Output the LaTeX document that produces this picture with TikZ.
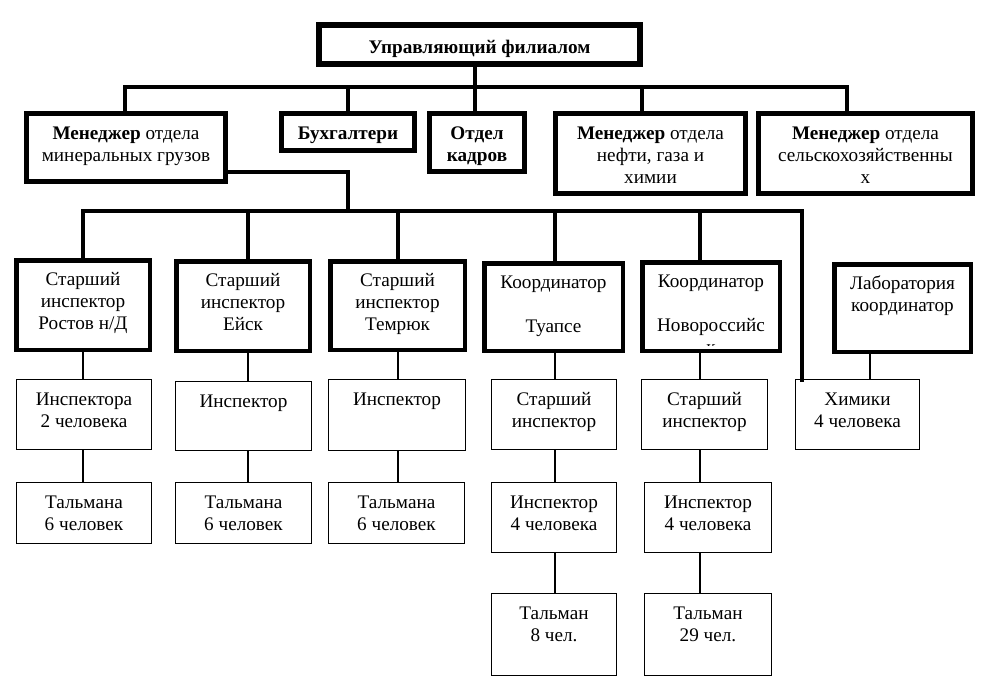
\documentclass[tikz,border=0pt]{standalone}
\usepackage{fontspec}
\setmainfont{Liberation Serif}
\def\cbpad{10pt}
\newcommand\cbx[8]{%
  \pgfmathsetmacro\cbw{#6-#4-#3}\pgfmathsetmacro\cbh{#7-#5-#3}%
  \node[#2, line width=#3pt, anchor=north west] (#1) at ({#4+#3/2},{#5+#3/2})
    {\parbox[c][\cbh pt][t]{\cbw pt}{\centering\vspace*{\cbpad}\strut #8}};}
\tikzset{
  cell/.style={draw=black, inner sep=0pt, outer sep=0pt, font=\fontsize{19.2}{22}\selectfont},
  bus/.style={draw=black, line width=4.5pt, line cap=rect, line join=miter},
  link/.style={draw=black, line width=1.2pt}
}
\begin{document}
\begin{tikzpicture}[x=1pt, y=-1pt]
\fill[white] (0,0) rectangle (983,689);
\useasboundingbox (0,0) rectangle (983,689);

% top
\def\cbpad{13pt}
\cbx{top}{cell}{6}{316}{22}{643}{67}{\textbf{Управляющий филиалом}}

% row 2
\def\cbpad{10.5pt}
\cbx{m1}{cell}{5}{24}{111}{228}{184}{\textbf{Менеджер} отдела\\минеральных грузов}
\cbx{buh}{cell}{5}{279}{111}{417}{153}{\textbf{Бухгалтери}}
\cbx{kad}{cell}{5}{427}{111}{527}{174}{\textbf{Отдел}\\\textbf{кадров}}
\cbx{neft}{cell}{5}{553}{111}{748}{196}{\textbf{Менеджер} отдела\\нефти, газа и\\химии}
\cbx{sel}{cell}{5}{756}{111}{975}{196}{\textbf{Менеджер} отдела\\сельскохозяйственны\\х}

% row 3
\def\cbpad{10pt}
\cbx{r1}{cell}{4.5}{14}{258}{152}{352}{Старший\\инспектор\\Ростов н/Д}
\cbx{r2}{cell}{4.5}{174}{259}{312}{353}{Старший\\инспектор\\Ейск}
\cbx{r3}{cell}{4.5}{328}{259}{467}{352}{Старший\\инспектор\\Темрюк}
\cbx{r4}{cell}{4.5}{482}{261}{625}{353}{Координатор\\\mbox{}\\Туапсе}
\begin{scope}
\clip (640,250) rectangle (782,345.5);
\cbx{r5}{cell, draw=none}{4.5}{640}{260}{782}{353}{Координатор\\\mbox{}\\Новороссийс\\к}
\end{scope}
\draw[line width=4.5pt] (r5.north west) rectangle (r5.south east);
\cbx{r6}{cell}{4.5}{832}{262}{973}{354}{Лаборатория\\координатор}

% row 4
\cbx{s1}{cell}{1.2}{16}{379}{152}{450}{Инспектора\\2 человека}
\cbx{s2}{cell}{1.2}{175}{381}{312}{451}{Инспектор}
\cbx{s3}{cell}{1.2}{328}{379}{466}{451}{Инспектор}
\cbx{s4}{cell}{1.2}{491}{379}{617}{450}{Старший\\инспектор}
\cbx{s5}{cell}{1.2}{641}{379}{768}{450}{Старший\\инспектор}
\cbx{s6}{cell}{1.2}{795}{379}{920}{450}{Химики\\4 человека}

% row 5
\cbx{t1}{cell}{1.2}{16}{482}{152}{544}{Тальмана\\6 человек}
\cbx{t2}{cell}{1.2}{175}{482}{312}{544}{Тальмана\\6 человек}
\cbx{t3}{cell}{1.2}{328}{482}{465}{544}{Тальмана\\6 человек}
\cbx{t4}{cell}{1.2}{491}{482}{617}{553}{Инспектор\\4 человека}
\cbx{t5}{cell}{1.2}{644}{482}{772}{553}{Инспектор\\4 человека}

% row 6
\cbx{u4}{cell}{1.2}{491}{593}{617}{676}{Тальман\\8 чел.}
\cbx{u5}{cell}{1.2}{644}{593}{772}{676}{Тальман\\29 чел.}

% connectors top level
\coordinate (busL) at (125,87);
\coordinate (busR) at (847,87);
\coordinate (xtop) at (475,87);
\coordinate (xneft) at (642,87);
\draw[bus] (xtop |- top.south) -- (xtop |- kad.north);
\draw[bus] (m1.north -| busL) |- (busR) -- (busR |- sel.north);
\draw[bus] (buh.north |- busL) -- (buh.north);
\draw[bus] (xneft) -- (xneft |- neft.north);

% second level bus
\coordinate (lvl) at (0,172);
\coordinate (k1) at (348,211);
\coordinate (b3L) at (83,211);
\coordinate (b3R) at (802,211);
\coordinate (x2) at (248,211);
\coordinate (x3) at (398,211);
\coordinate (x4) at (555,211);
\coordinate (x5) at (700,211);
\draw[bus] (m1.east |- lvl) -| (k1);
\draw[bus] (b3L |- r1.north) |- (b3R) -- (b3R |- s6.north);
\draw[bus] (x2) -- (x2 |- r2.north);
\draw[bus] (x3) -- (x3 |- r3.north);
\draw[bus] (x4) -- (x4 |- r4.north);
\draw[bus] (x5) -- (x5 |- r5.north);

% thin links
\coordinate (c1) at (83,0);
\coordinate (c2) at (248,0);
\coordinate (c3) at (398,0);
\coordinate (c4) at (555,0);
\coordinate (c5) at (700,0);
\coordinate (c6) at (870,0);
\draw[link] (c1 |- r1.south) -- (c1 |- s1.north);
\draw[link] (c2 |- r2.south) -- (c2 |- s2.north);
\draw[link] (c3 |- r3.south) -- (c3 |- s3.north);
\draw[link] (c4 |- r4.south) -- (c4 |- s4.north);
\draw[link] (c5 |- r5.south) -- (c5 |- s5.north);
\draw[link] (c6 |- r6.south) -- (c6 |- s6.north);
\draw[link] (c1 |- s1.south) -- (c1 |- t1.north);
\draw[link] (c2 |- s2.south) -- (c2 |- t2.north);
\draw[link] (c3 |- s3.south) -- (c3 |- t3.north);
\draw[link] (c4 |- s4.south) -- (c4 |- t4.north);
\draw[link] (c5 |- s5.south) -- (c5 |- t5.north);
\draw[link] (c4 |- t4.south) -- (c4 |- u4.north);
\draw[link] (c5 |- t5.south) -- (c5 |- u5.north);
\end{tikzpicture}
\end{document}
